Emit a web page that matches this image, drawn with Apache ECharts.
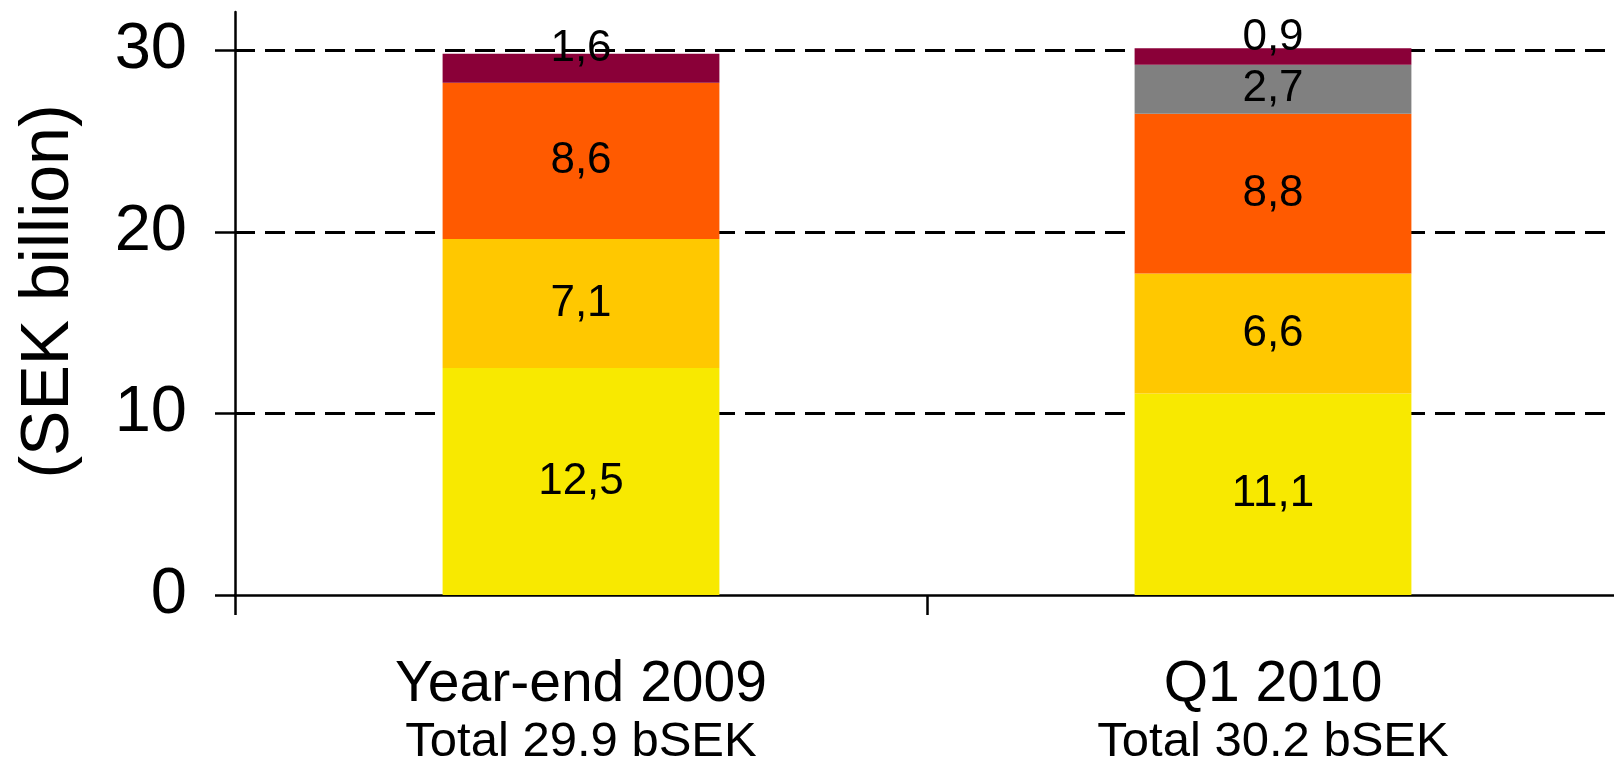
<!DOCTYPE html>
<html>
<head>
<meta charset="utf-8">
<title>SEK billion</title>
<script src="https://cdn.jsdelivr.net/npm/echarts@6/dist/echarts.min.js"></script>
<style>
  html, body { margin: 0; padding: 0; background: #ffffff; }
  #chart { width: 1614px; height: 761px; }
</style>
</head>
<body>
<div id="chart"></div>
<script>
// Periods and their reported totals (bSEK)
const categories = ['Year-end 2009', 'Q1 2010'];
const totals = ['29.9', '30.2'];

// Stacked components, bottom to top (SEK billion)
const yellowPart = [12.5, 11.1];
const amberPart = [7.1, 6.6];
const orangePart = [8.6, 8.8];
const greyPart = ['-', 2.7];
const maroonPart = [1.6, 0.9];

// Value axis ticks and reference lines
const yTicks = [0, 10, 20, 30];
const gridValues = [10, 20, 30];

const FONT = '"Liberation Sans", Arial, Helvetica, sans-serif';

const chart = echarts.init(document.getElementById('chart'), null, { renderer: 'canvas' });

function commaLabel(p) {
  return String(p.value).replace('.', ',');
}

function segment(name, data, color, extra) {
  return Object.assign({
    name: name,
    type: 'bar',
    stack: 'total',
    data: data,
    barWidth: '40%',
    itemStyle: { color: color },
    label: {
      show: true,
      position: 'inside',
      formatter: commaLabel,
      color: '#000000',
      fontFamily: FONT,
      fontSize: 44
    },
    emphasis: { disabled: true }
  }, extra || {});
}

const option = {
  animation: false,
  backgroundColor: '#ffffff',
  grid: { left: 235, right: -5, top: 12, bottom: 166, containLabel: false, outerBoundsMode: 'none' },
  xAxis: {
    type: 'category',
    data: categories,
    axisLine: { show: true, lineStyle: { color: '#000000', width: 2.5 } },
    axisTick: { show: true, length: 20, lineStyle: { color: '#000000', width: 2.5 } },
    axisLabel: {
      margin: 60,
      interval: 0,
      formatter: function (value, idx) {
        return '{a|' + value + '}\n{b|Total ' + totals[idx] + ' bSEK}';
      },
      rich: {
        a: { fontFamily: FONT, fontSize: 57, lineHeight: 60, color: '#000000' },
        b: { fontFamily: FONT, fontSize: 49, lineHeight: 54, color: '#000000' }
      }
    },
    splitLine: { show: false }
  },
  yAxis: {
    type: 'value',
    min: 0,
    max: 32.1,
    interval: 10,
    name: '(SEK billion)',
    nameLocation: 'middle',
    nameRotate: 90,
    nameGap: 152,
    nameTextStyle: { fontFamily: FONT, fontSize: 68, color: '#000000', padding: [0, 0, 0, 24] },
    axisLine: { show: true, lineStyle: { color: '#000000', width: 2.5 } },
    axisTick: { show: true, length: 20, customValues: yTicks, lineStyle: { color: '#000000', width: 2.5 } },
    axisLabel: {
      customValues: yTicks,
      margin: 48,
      fontFamily: FONT,
      fontSize: 65,
      color: '#000000'
    },
    splitLine: { show: false }
  },
  series: [
    segment('Component 1', yellowPart, '#F8E900', {
      markLine: {
        z: 1,
        silent: true,
        symbol: ['none', 'none'],
        label: { show: false },
        lineStyle: { color: '#000000', width: 3, type: [20, 10] },
        data: gridValues.map(function (v) { return { yAxis: v }; })
      }
    }),
    segment('Component 2', amberPart, '#FFC800'),
    segment('Component 3', orangePart, '#FF5A00'),
    segment('Component 4', greyPart, '#808080'),
    segment('Component 5', maroonPart, '#8A0038', {
      label: {
        show: true,
        position: 'inside',
        offset: [0, -19],
        formatter: commaLabel,
        color: '#000000',
        fontFamily: FONT,
        fontSize: 44
      }
    })
  ]
};

chart.setOption(option);
</script>
</body>
</html>
